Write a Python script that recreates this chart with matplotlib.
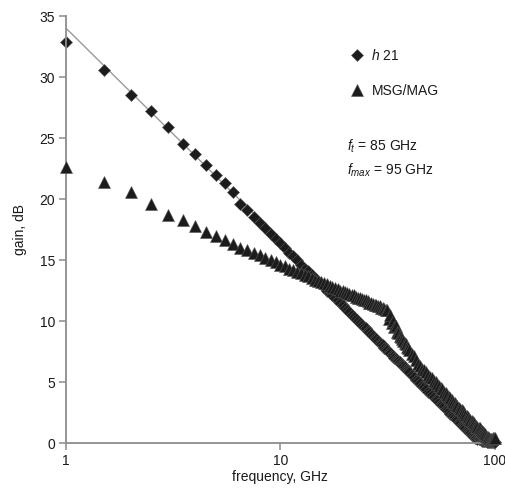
import matplotlib
matplotlib.use("Agg")
import matplotlib.pyplot as plt
from matplotlib.lines import Line2D

plt.rcParams['font.family'] = ['Liberation Sans', 'DejaVu Sans']
plt.rcParams['mathtext.fontset'] = 'custom'
plt.rcParams['mathtext.rm'] = 'Liberation Sans'
plt.rcParams['mathtext.it'] = 'Liberation Sans:italic'

# frequency sweep, GHz
freq = [
    1.0, 1.5, 2.0, 2.5, 3.0, 3.5, 4.0, 4.5, 5.0, 5.5, 6.0, 6.5, 7.0, 7.5, 8.0, 8.5, 9.0, 9.5, 10.0,
    10.5, 11.0, 11.5, 12.0, 12.5, 13.0, 13.5, 14.0, 14.5, 15.0, 15.5, 16.0, 16.5, 17.0, 17.5, 18.0,
    18.5, 19.0, 19.5, 20.0, 20.5, 21.0, 21.5, 22.0, 22.5, 23.0, 23.5, 24.0, 24.5, 25.0, 25.5, 26.0,
    26.5, 27.0, 27.5, 28.0, 28.5, 29.0, 29.5, 30.0, 30.5, 31.0, 31.5, 32.0, 32.5, 33.0, 33.5, 34.0,
    34.5, 35.0, 35.5, 36.0, 36.5, 37.0, 37.5, 38.0, 38.5, 39.0, 39.5, 40.0,
    41, 42, 43, 44, 45, 46, 47, 48, 49, 50, 51, 52, 53, 54, 55, 56, 57, 58, 59, 60,
    61, 62, 63, 64, 65, 66, 67, 68, 69, 70, 71, 72, 73, 74, 75, 76, 77, 78, 79, 80,
    81, 82, 83, 84, 85, 86, 87, 88, 89, 90, 91, 92, 93, 94, 95, 96, 97, 98, 99, 100,
]

# |h21|, dB
h21 = [
    32.9, 30.6, 28.5, 27.2, 25.9, 24.5, 23.7, 22.8, 22.0, 21.3, 20.6,
    19.6, 19.1, 18.5, 18.0, 17.6, 17.1, 16.7, 16.4, 16.0, 15.6, 15.3, 15.0, 14.6, 14.3,
    14.1, 13.8, 13.5, 13.3, 13.0, 12.8, 12.5, 12.3, 12.1, 11.9, 11.7, 11.5, 11.3, 11.1,
    10.9, 10.7, 10.5, 10.3, 10.2, 10.0, 9.8, 9.7, 9.5, 9.4,
    9.2, 9.1, 8.9, 8.8, 8.6, 8.5, 8.4, 8.2, 8.1, 8.0,
    7.8, 7.7, 7.6, 7.5, 7.4, 7.2, 7.1, 7.0, 6.9, 6.8,
    6.7, 6.6, 6.5, 6.4, 6.3, 6.2, 6.1, 6.0, 5.9, 5.8,
    5.6, 5.4, 5.2, 5.1, 4.9, 4.7, 4.6, 4.4, 4.2, 4.1,
    3.9, 3.8, 3.6, 3.5, 3.4, 3.2, 3.1, 3.0, 2.8, 2.7,
    2.6, 2.4, 2.3, 2.2, 2.1, 2.0, 1.9, 1.7, 1.6, 1.5,
    1.4, 1.3, 1.2, 1.1, 1.0, 0.9, 0.8, 0.7, 0.6, 0.5,
    0.45, 0.4, 0.35, 0.3, 0.3, 0.25, 0.2, 0.2, 0.2, 0.15,
    0.15, 0.1, 0.1, 0.1, 0.1, 0.1, 0.05, 0.05, 0.05, 0.05,
]

# MSG/MAG, dB
msg = [
    22.6, 21.4, 20.6, 19.6, 18.7, 18.3, 17.8, 17.3, 17.0, 16.6, 16.3,
    16.0, 15.8, 15.6, 15.4, 15.2, 15.0, 14.8, 14.6, 14.5, 14.3, 14.2, 14.0, 13.9, 13.8,
    13.7, 13.5, 13.4, 13.3, 13.2, 13.1, 13.0, 12.9, 12.8, 12.7, 12.6, 12.5, 12.5, 12.4,
    12.3, 12.2, 12.1, 12.1, 12.0, 11.9, 11.9, 11.8, 11.7, 11.7,
    11.6, 11.5, 11.5, 11.4, 11.3, 11.3, 11.2, 11.2, 11.1, 11.1,
    11.0, 10.9, 10.9, 10.2, 10.5, 9.8, 10.0, 9.5, 9.6, 9.1,
    9.0, 8.8, 8.7, 8.5, 8.4, 8.2, 8.1, 7.9, 7.8, 7.6,
    7.3, 7.1, 6.8, 6.5, 6.3, 6.1, 6.0, 5.8, 5.6, 5.4,
    5.3, 5.1, 5.0, 4.8, 4.7, 4.5, 4.4, 4.2, 4.1, 3.9,
    3.8, 3.7, 3.5, 3.4, 3.3, 3.1, 3.0, 2.9, 2.8, 2.7,
    2.6, 2.5, 2.3, 2.2, 2.1, 2.0, 1.9, 1.8, 1.7, 1.6,
    1.5, 1.4, 1.3, 1.2, 1.2, 1.1, 1.0, 0.9, 0.8, 0.7,
    0.6, 0.5, 0.5, 0.4, 0.3, 0.3, 0.3, 0.4, 0.4, 0.4,
]

# fitted trend line for h21
trend_f = [1, 100]
trend_gain = [34.0, -0.7]

spine_col = '#8c8c8c'
mark_face = '#1c1c1c'
mark_edge = '#555555'

fig = plt.figure(figsize=(5.05, 4.88), dpi=100)
ax = fig.add_axes([0.1307, 0.0922, 0.849, 0.875])

ax.plot(trend_f, trend_gain, color='#9a9a9a', lw=1.0, zorder=1)
ax.plot(freq, h21, ls='none', marker='D', ms=6.2, mfc=mark_face, mec=mark_edge, mew=0.4,
        zorder=2, clip_on=False)
ax.plot(freq, msg, ls='none', marker='^', ms=9.0, mfc=mark_face, mec=mark_edge, mew=0.4,
        zorder=3, clip_on=False)

ax.set_xscale('log')
ax.set_xlim(1, 100)
ax.set_ylim(0, 35)
ax.set_yticks([0, 5, 10, 15, 20, 25, 30, 35])
ax.set_xticks([1, 10, 100])
ax.set_xticklabels(['1', '10', '100'])
ax.minorticks_off()

for s in ['top', 'right']:
    ax.spines[s].set_visible(False)
for s in ['left', 'bottom']:
    ax.spines[s].set_color(spine_col)
    ax.spines[s].set_linewidth(1.3)
ax.tick_params(axis='both', direction='out', length=5, width=1.1, color=spine_col,
               labelsize=10, labelcolor='#1a1a1a', pad=3)

ax.set_xlabel('frequency, GHz', fontsize=10, color='#1a1a1a', labelpad=1)
ax.set_ylabel('gain, dB', fontsize=10, color='#1a1a1a', labelpad=9)

handles = [
    Line2D([], [], ls='none', marker='D', ms=6.2, mfc=mark_face, mec=mark_edge, mew=0.4),
    Line2D([], [], ls='none', marker='^', ms=9.0, mfc=mark_face, mec=mark_edge, mew=0.4),
]
ax.legend(handles, ['$h$ 21', 'MSG/MAG'], loc='upper left', bbox_to_anchor=(0.633, 0.955),
          frameon=False, fontsize=10, handlelength=1.0, handletextpad=0.55, labelspacing=1.55,
          labelcolor='#1a1a1a')

ax.text(0.655, 0.696, '$f_t$ = 85 GHz', transform=ax.transAxes, fontsize=10,
        color='#1a1a1a', va='center', ha='left')
ax.text(0.655, 0.639, '$f_{max}$ = 95 GHz', transform=ax.transAxes, fontsize=10,
        color='#1a1a1a', va='center', ha='left')

fig.savefig('out.png', dpi=100)
